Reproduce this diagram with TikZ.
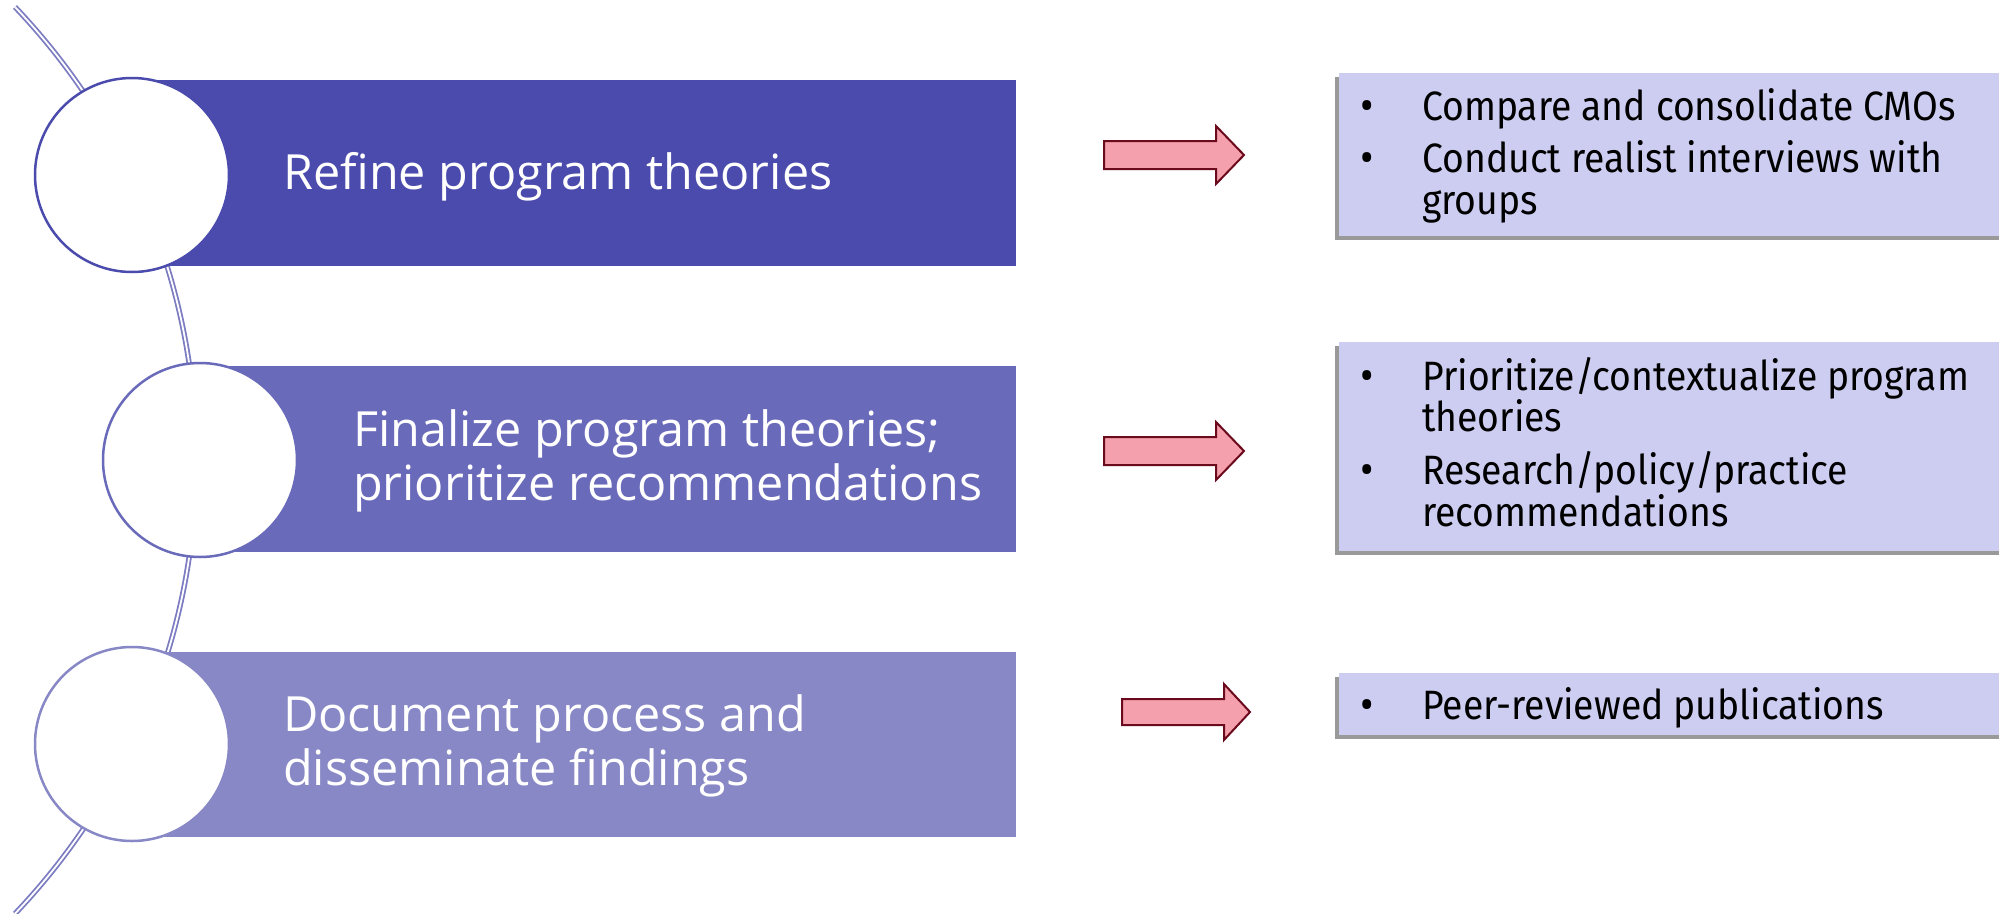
\documentclass[tikz,border=0pt]{standalone}
\usepackage{fontspec}
\setmainfont{Open Sans}
\newfontfamily\boxfont[FakeStretch=0.91]{Fira Sans}
\usetikzlibrary{shadows}
\definecolor{barA}{HTML}{4B4BAD}
\definecolor{barB}{HTML}{6A6ABB}
\definecolor{barC}{HTML}{8888C6}
\definecolor{arcc}{HTML}{7C7CC2}
\definecolor{boxfill}{HTML}{CDCDF1}
\definecolor{arrowfill}{HTML}{F4A1AD}
\definecolor{arrowline}{HTML}{6B0A1C}
\begin{document}
\begin{tikzpicture}[x=1pt,y=-1pt,
  bar/.style={rectangle, draw=none, inner sep=0, anchor=north west, minimum width=884pt, minimum height=186pt},
  ring/.style={circle, fill=white, line width=2.5pt, minimum size=194pt, inner sep=0},
  bartext/.style={text=white, font=\fontsize{48.5}{58}\selectfont, anchor=base west, inner sep=0},
  outbox/.style={rectangle, fill=boxfill, anchor=north west, inner sep=0, minimum width=670pt,
     drop shadow={shadow xshift=-4pt, shadow yshift=-4pt, fill=black, opacity=0.4}},
  itemtext/.style={font=\boxfont\fontsize{41}{45}\selectfont, anchor=base west, inner sep=0, text=black},
  bulletmark/.style={font=\fontsize{41}{45}\selectfont, anchor=base, inner sep=0, text=black},
  pinkarrow/.style={fill=arrowfill, draw=arrowline, line width=2pt, line join=miter}
]
\useasboundingbox (0,0) rectangle (1999,913);
% background arc
\draw[arcc, line width=1.8pt, double=white, double distance=1.8pt] (15,7) arc[start angle=-43.6, end angle=43.6, radius=657.4];
% bars
\node[bar, fill=barA] (r1) at (132,80) {};
\node[bar, fill=barB, minimum width=816pt] (r2) at (200,366) {};
\node[bar, fill=barC, minimum height=185pt] (r3) at (132,652) {};
% circles
\node[ring, draw=barA] (c1) at (132,175) {};
\node[ring, draw=barB] (c2) at (200,460) {};
\node[ring, draw=barC] (c3) at (132,744) {};
% bar texts
\node[bartext] (t1) at (283,189) {Refine program theories};
\node[bartext] (t2a) at (353,446) {Finalize program theories;};
\node[bartext] (t2b) at (353,500) {prioritize recommendations};
\node[bartext] (t3a) at (283,731) {Document process and};
\node[bartext] (t3b) at (283,785) {disseminate findings};
% arrows
\coordinate (a1) at (1104,155);
\coordinate (a2) at (1104,451);
\coordinate (a3) at (1122,712);
\draw[pinkarrow] (a1) ++(0,-14) -- ++(112,0) -- ++(0,-15) -- ++(28,29) -- ++(-28,29) -- ++(0,-15) -- ++(-112,0) -- cycle;
\draw[pinkarrow] (a2) ++(0,-14) -- ++(112,0) -- ++(0,-15) -- ++(28,29) -- ++(-28,29) -- ++(0,-15) -- ++(-112,0) -- cycle;
\draw[pinkarrow] (a3) ++(0,-13) -- ++(102,0) -- ++(0,-15) -- ++(26,28) -- ++(-26,28) -- ++(0,-15) -- ++(-102,0) -- cycle;
% output boxes
\node[outbox, minimum height=163pt] (b1) at (1339,73) {};
\node[outbox, minimum height=209pt] (b2) at (1339,342) {};
\node[outbox, minimum height=62pt] (b3) at (1339,673) {};
% box 1 text
\node[bulletmark] (d1a) at (1367,120) {•};
\node[itemtext] (i1a) at (1422,120) {Compare and consolidate CMOs};
\node[bulletmark] (d1b) at (1367,172) {•};
\node[itemtext] (i1b) at (1422,172) {Conduct realist interviews with};
\node[itemtext] (i1c) at (1422,214) {groups};
% box 2 text
\node[bulletmark] (d2a) at (1367,390) {•};
\node[itemtext] (i2a) at (1422,390) {Prioritize/contextualize program};
\node[itemtext] (i2b) at (1422,431) {theories};
\node[bulletmark] (d2c) at (1367,484) {•};
\node[itemtext] (i2c) at (1422,484) {Research/policy/practice};
\node[itemtext] (i2d) at (1422,526) {recommendations};
% box 3 text
\node[bulletmark] (d3a) at (1367,719) {•};
\node[itemtext] (i3a) at (1422,719) {Peer-reviewed publications};
\end{tikzpicture}
\end{document}
